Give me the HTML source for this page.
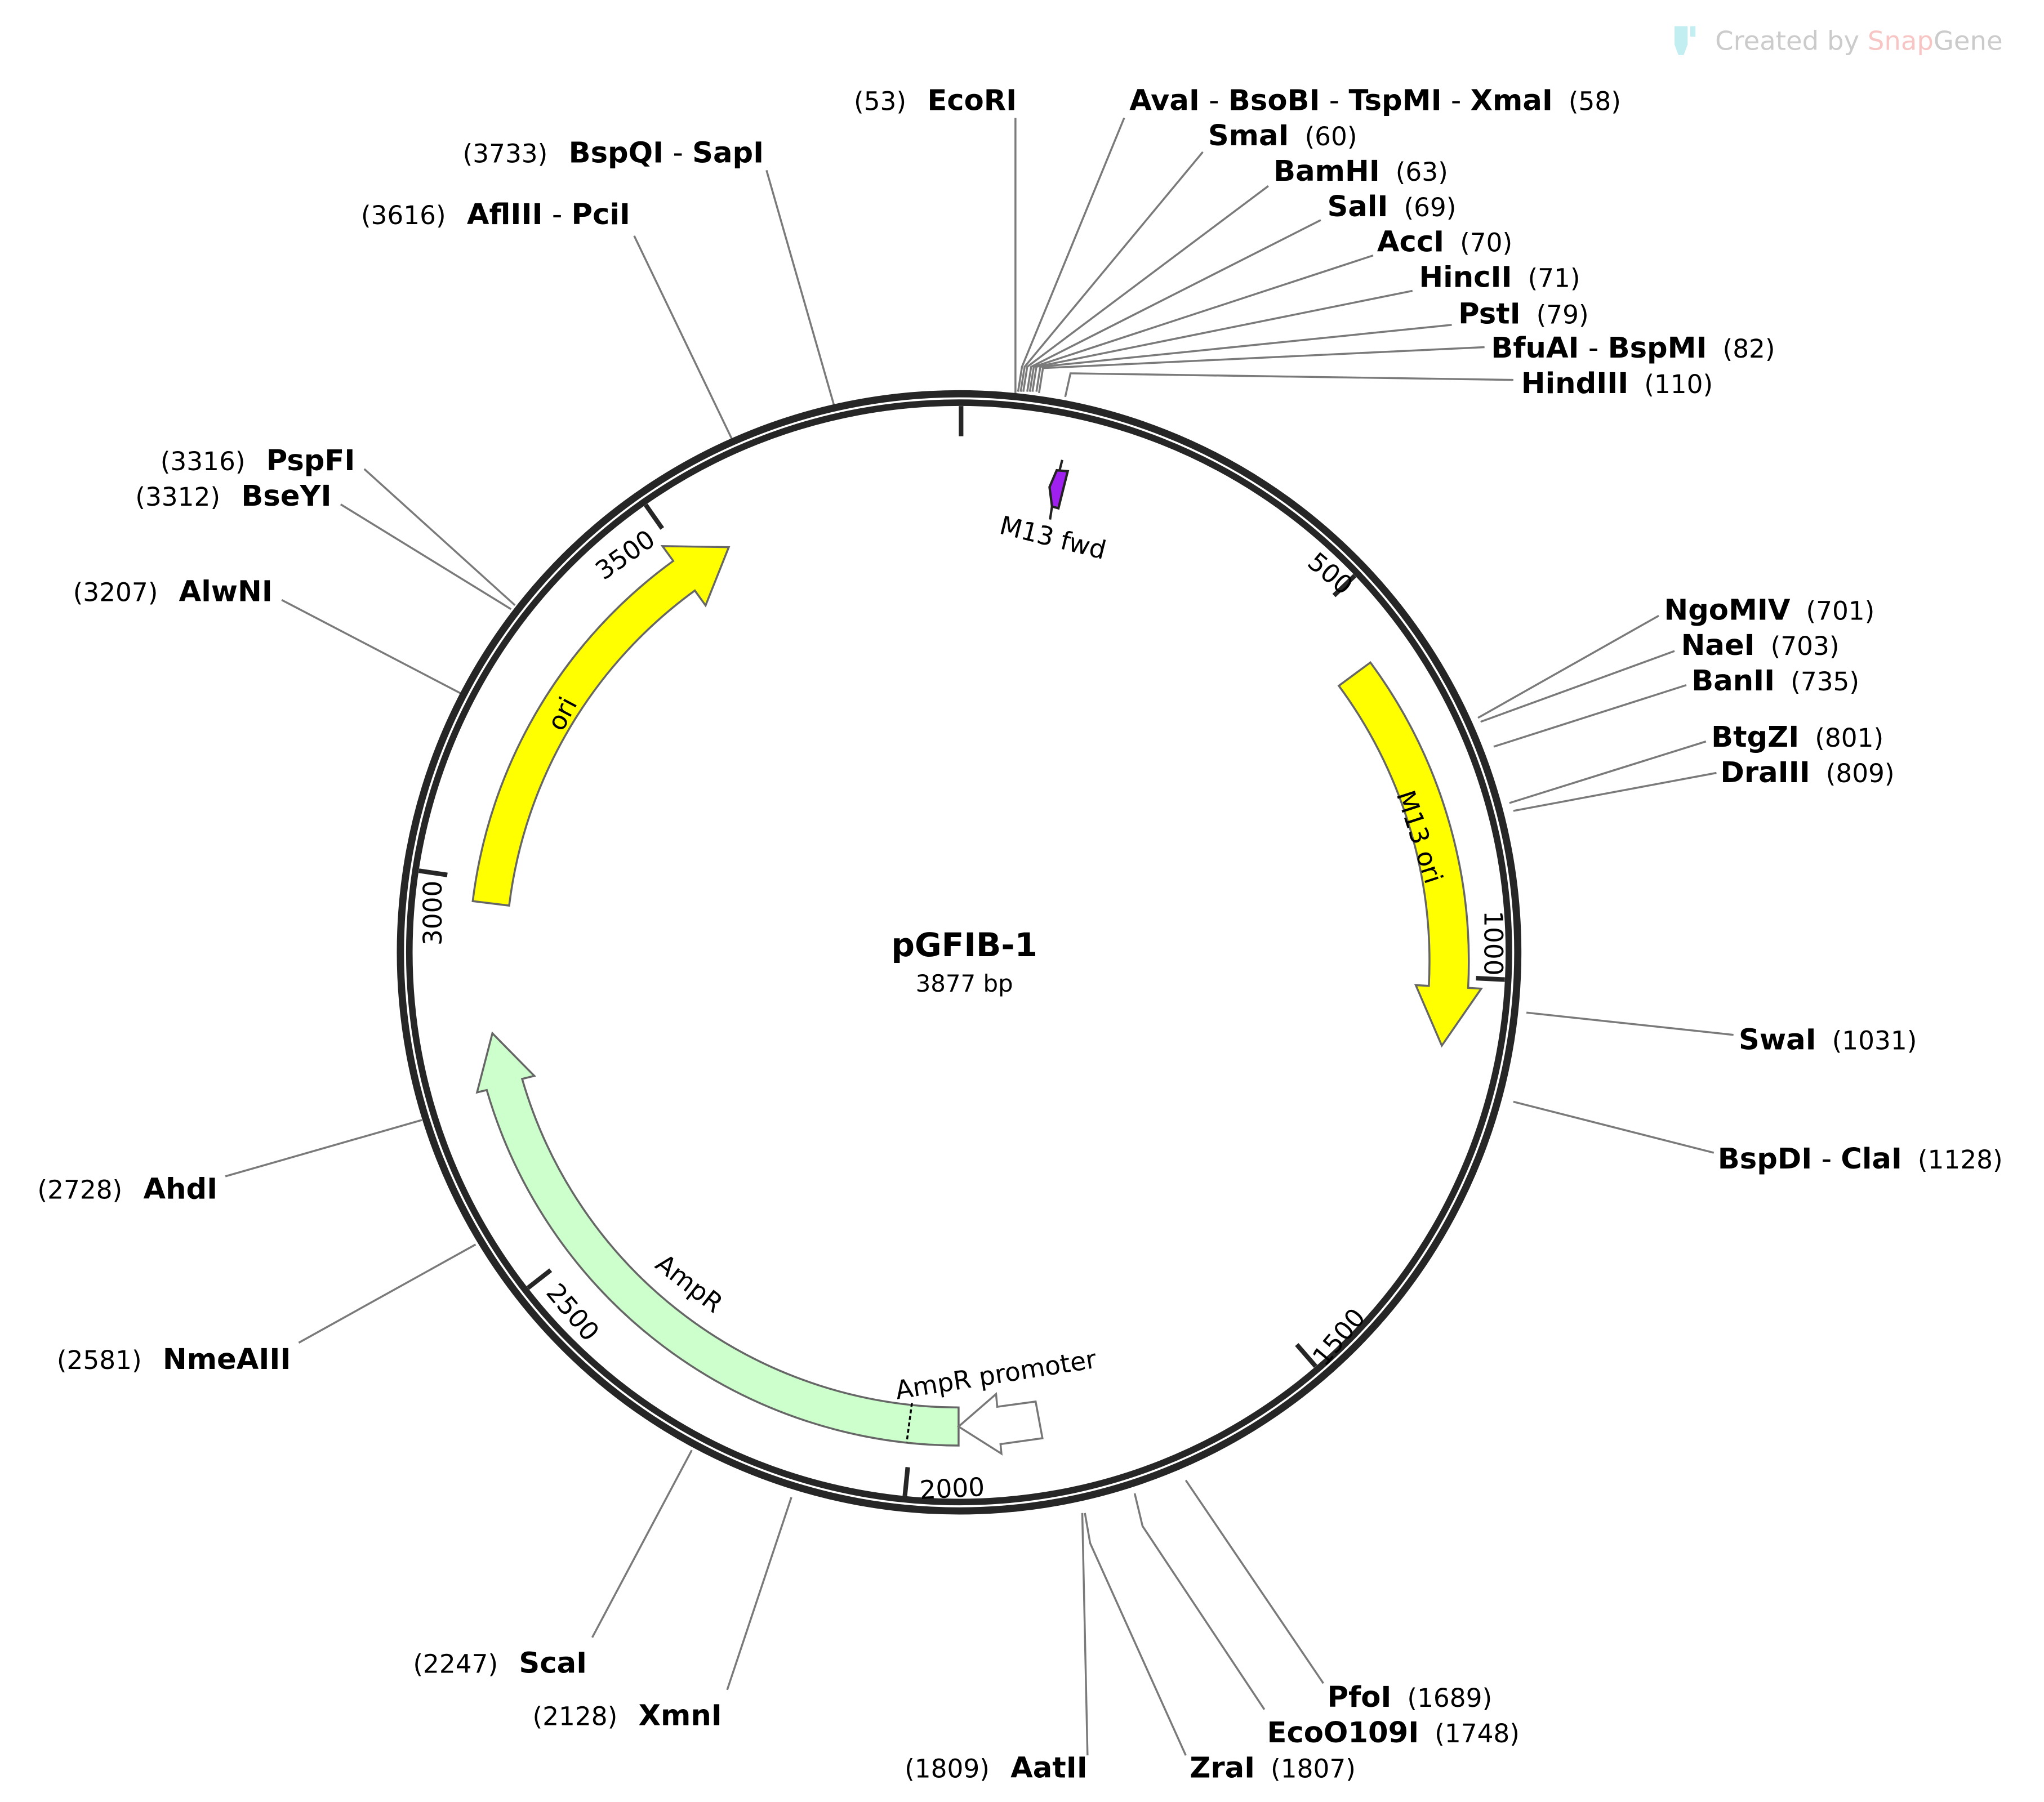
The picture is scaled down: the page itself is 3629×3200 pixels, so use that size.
<!DOCTYPE html>
<html><head><meta charset="utf-8"><style>
html,body{margin:0;padding:0;background:#fff;}
svg{display:block;}
text{font-family:"DejaVu Sans","Liberation Sans",sans-serif;fill:#000;}
.n{font-size:19.5px;}
.b{font-size:22px;font-weight:bold;}
.s{font-size:22px;font-weight:normal;}
.l{stroke:#7a7a7a;stroke-width:1.5;fill:none;}
.t{font-size:19.5px;}
</style></head><body>
<svg width="3629" height="3200" viewBox="0 0 1560 1375.6" preserveAspectRatio="none" xmlns="http://www.w3.org/2000/svg">
<rect width="1560" height="1375.6" fill="#fff"/>
<g opacity="0.6">
<path d="M1278 20 h10 v14 l-3 8 h-4 l-3 -8z" fill="#9be3ea"/>
<rect x="1290" y="20" width="4" height="8" fill="#9be3ea"/>
<text x="1309" y="38" style="font-size:20px;fill:#aaa">Created by <tspan style="fill:#f4a0a0">Snap</tspan><tspan style="fill:#aaa">Gene</tspan></text>
</g>

<g class="l">
<polyline points="775,300 775,90"/>
<polyline points="777,299 780,280 858,90"/>
<polyline points="779,299 782,280 918,116"/>
<polyline points="781,299 784,280 968,142"/>
<polyline points="784,299 787,280 1008,168"/>
<polyline points="786,299 789,280 1048,195"/>
<polyline points="788,299 791,280 1078,222"/>
<polyline points="791,299 794,280 1108,248"/>
<polyline points="793,300 796,281 1133,265"/>
<polyline points="813,303 817,285 1155,290"/>
<polyline points="1128,548 1266,470"/>
<polyline points="1130,551 1278,497"/>
<polyline points="1140,570 1287,523"/>
<polyline points="1152,613 1302,566"/>
<polyline points="1155,619 1310,590"/>
<polyline points="1165,773 1323,790"/>
<polyline points="1155,841 1308,880"/>
<polyline points="905,1130 1010,1285"/>
<polyline points="866,1140 872,1165 965,1305"/>
<polyline points="828,1155 832,1178 905,1340"/>
<polyline points="826,1155 830,1340"/>
<polyline points="604,1143 555,1290"/>
<polyline points="528,1107 452,1250"/>
<polyline points="363,950 228,1025"/>
<polyline points="322,855 172,898"/>
<polyline points="353,530 215,458"/>
<polyline points="390,465 260,385"/>
<polyline points="393,462 278,358"/>
<polyline points="559,336 484,180"/>
<polyline points="637,311 585,130"/>
</g>

<circle cx="732" cy="727" r="426.4" fill="none" stroke="#262626" stroke-width="5.5"/>
<circle cx="732" cy="727" r="419.6" fill="none" stroke="#262626" stroke-width="5"/>

<g stroke="#262626" stroke-width="3.5">
<line x1="733.5" y1="310" x2="733.5" y2="333"/>
<line x1="1034" y1="439.4" x2="1018.1" y2="454.6"/>
<line x1="1148.5" y1="747.8" x2="1126.5" y2="746.7"/>
<line x1="1004.1" y1="1043" x2="989.7" y2="1026.4"/>
<line x1="690.6" y1="1142" x2="692.8" y2="1120"/>
<line x1="402.9" y1="983.2" x2="420.3" y2="969.6"/>
<line x1="319.7" y1="664.7" x2="341.4" y2="667.9"/>
<line x1="492.8" y1="385.4" x2="505.4" y2="403.4"/>
</g>
<g class="t" text-anchor="middle">
<text transform="translate(1011,443) rotate(40)">500</text>
<text transform="translate(1133,720) rotate(90)">1000</text>
<text transform="translate(1027,1025) rotate(-50)">1500</text>
<text transform="translate(727,1143) rotate(-3)">2000</text>
<text transform="translate(432,1006) rotate(50)">2500</text>
<text transform="translate(337,697) rotate(-90)">3000</text>
<text transform="translate(481,429) rotate(-35)">3500</text>
</g>

<path d="M 1045.9 505.7 A 385 385 0 0 1 1120.5 754.1 L 1130.5 754.7 L 1100.4 798.2 L 1080.5 752.0 L 1090.5 752.6 A 355 355 0 0 0 1021.8 523.5 Z" fill="#ffff00" stroke="#666" stroke-width="1.5"/>
<path d="M 388.6 691.3 A 350 350 0 0 1 530.3 450.8 L 538.5 462.2 L 556.2 417.7 L 505.6 416.9 L 513.8 428.2 A 378 378 0 0 0 360.8 687.9 Z" fill="#ffff00" stroke="#666" stroke-width="1.5"/>
<path d="M 731.6 1103.5 A 376 376 0 0 1 371.5 832.1 L 364.1 833.9 L 375.8 788.8 L 407.8 821.3 L 398.5 823.6 A 347 347 0 0 0 731.6 1074.4 Z" fill="#ccffcc" stroke="#666" stroke-width="1.5"/>
<line x1="696" y1="1071" x2="692" y2="1101" stroke="#000" stroke-width="1.5" stroke-dasharray="3,2"/>
<polygon points="731.6,1089 760.2,1064.2 761.1,1073.9 790.4,1069.9 795.6,1097.9 763.6,1102.4 764.3,1109.7" fill="#fff" stroke="#777" stroke-width="1.5"/>
<g stroke="#222" stroke-width="1.8">
<line x1="810.7" y1="351.1" x2="808.7" y2="359"/>
<polygon points="806.5,359 814.9,359.7 807.8,388 802.9,386.6 801,371.8" fill="#a020f0"/>
<line x1="802.9" y1="386.6" x2="801.4" y2="396.6"/>
</g>
<g class="t" text-anchor="middle">
<text transform="translate(802,417) rotate(14)">M13 fwd</text>
<text transform="translate(1077,641) rotate(72)">M13 ori</text>
<text transform="translate(435,548) rotate(-62)">ori</text>
<text transform="translate(522,985) rotate(38)">AmpR</text>
<text transform="translate(761,1056) rotate(-9)">AmpR promoter</text>
</g>

<text x="736" y="730" text-anchor="middle" style="font-size:25px;font-weight:bold">pGFIB-1</text>
<text x="736" y="757" text-anchor="middle" style="font-size:18px">3877 bp</text>

<g>
<text x="862" y="84"><tspan class="b">AvaI</tspan><tspan class="s"> - </tspan><tspan class="b">BsoBI</tspan><tspan class="s"> - </tspan><tspan class="b">TspMI</tspan><tspan class="s"> - </tspan><tspan class="b">XmaI</tspan><tspan class="n" dx="12">(58)</tspan></text>
<text x="922" y="111"><tspan class="b">SmaI</tspan><tspan class="n" dx="12">(60)</tspan></text>
<text x="972" y="138"><tspan class="b">BamHI</tspan><tspan class="n" dx="12">(63)</tspan></text>
<text x="1013" y="165"><tspan class="b">SalI</tspan><tspan class="n" dx="12">(69)</tspan></text>
<text x="1051" y="192"><tspan class="b">AccI</tspan><tspan class="n" dx="12">(70)</tspan></text>
<text x="1083" y="219"><tspan class="b">HincII</tspan><tspan class="n" dx="12">(71)</tspan></text>
<text x="1113" y="247"><tspan class="b">PstI</tspan><tspan class="n" dx="12">(79)</tspan></text>
<text x="1138" y="273"><tspan class="b">BfuAI</tspan><tspan class="s"> - </tspan><tspan class="b">BspMI</tspan><tspan class="n" dx="12">(82)</tspan></text>
<text x="1161" y="300"><tspan class="b">HindIII</tspan><tspan class="n" dx="12">(110)</tspan></text>
<text x="1270" y="473"><tspan class="b">NgoMIV</tspan><tspan class="n" dx="12">(701)</tspan></text>
<text x="1283" y="500"><tspan class="b">NaeI</tspan><tspan class="n" dx="12">(703)</tspan></text>
<text x="1291" y="527"><tspan class="b">BanII</tspan><tspan class="n" dx="12">(735)</tspan></text>
<text x="1306" y="570"><tspan class="b">BtgZI</tspan><tspan class="n" dx="12">(801)</tspan></text>
<text x="1313" y="597"><tspan class="b">DraIII</tspan><tspan class="n" dx="12">(809)</tspan></text>
<text x="1327" y="801"><tspan class="b">SwaI</tspan><tspan class="n" dx="12">(1031)</tspan></text>
<text x="1311" y="892"><tspan class="b">BspDI</tspan><tspan class="s"> - </tspan><tspan class="b">ClaI</tspan><tspan class="n" dx="12">(1128)</tspan></text>
<text x="1013" y="1303"><tspan class="b">PfoI</tspan><tspan class="n" dx="12">(1689)</tspan></text>
<text x="967" y="1330"><tspan class="b">EcoO109I</tspan><tspan class="n" dx="12">(1748)</tspan></text>
<text x="908" y="1357"><tspan class="b">ZraI</tspan><tspan class="n" dx="12">(1807)</tspan></text>
</g>
<g text-anchor="end">
<text x="776" y="84"><tspan class="n">(53)</tspan><tspan class="b" dx="16">EcoRI</tspan></text>
<text x="830" y="1357"><tspan class="n">(1809)</tspan><tspan class="b" dx="16">AatII</tspan></text>
<text x="551" y="1317"><tspan class="n">(2128)</tspan><tspan class="b" dx="16">XmnI</tspan></text>
<text x="448" y="1277"><tspan class="n">(2247)</tspan><tspan class="b" dx="16">ScaI</tspan></text>
<text x="222" y="1045"><tspan class="n">(2581)</tspan><tspan class="b" dx="16">NmeAIII</tspan></text>
<text x="166" y="915"><tspan class="n">(2728)</tspan><tspan class="b" dx="16">AhdI</tspan></text>
<text x="208" y="459"><tspan class="n">(3207)</tspan><tspan class="b" dx="16">AlwNI</tspan></text>
<text x="253" y="386"><tspan class="n">(3312)</tspan><tspan class="b" dx="16">BseYI</tspan></text>
<text x="271" y="359"><tspan class="n">(3316)</tspan><tspan class="b" dx="16">PspFI</tspan></text>
<text x="481" y="171"><tspan class="n">(3616)</tspan><tspan class="b" dx="16">AflIII</tspan><tspan class="s"> - </tspan><tspan class="b">PciI</tspan></text>
<text x="583" y="124"><tspan class="n">(3733)</tspan><tspan class="b" dx="16">BspQI</tspan><tspan class="s"> - </tspan><tspan class="b">SapI</tspan></text>
</g>
</svg>
</body></html>
